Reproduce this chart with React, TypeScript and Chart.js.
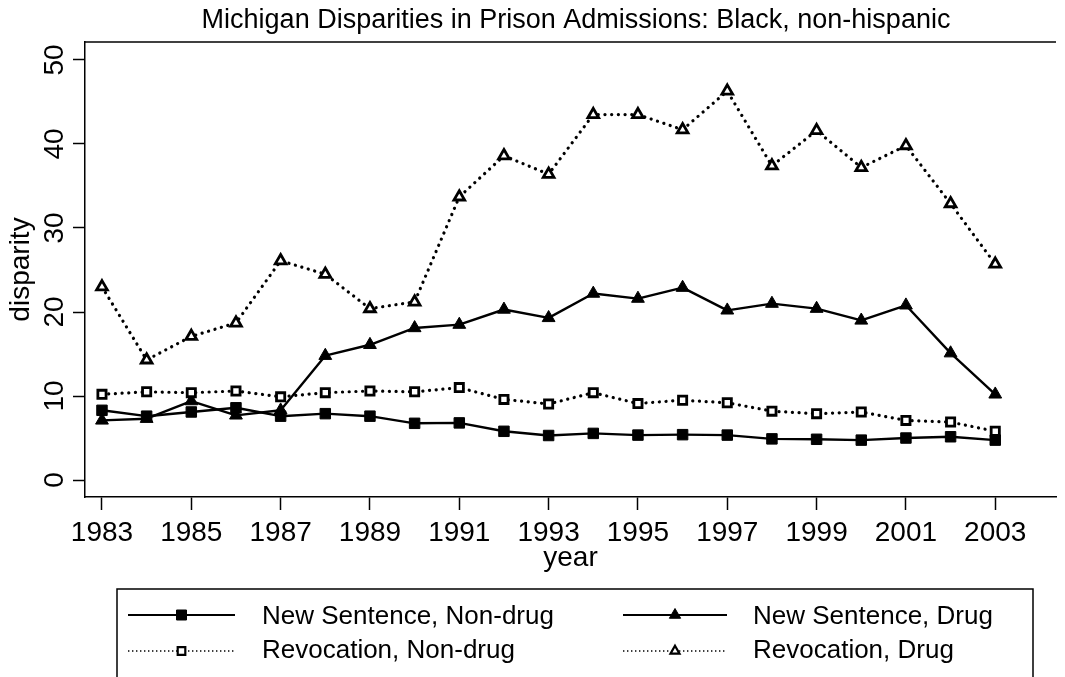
import React, { useEffect, useRef } from 'react';
import { Chart, registerables } from 'chart.js';

Chart.register(...registerables);

const titleText = 'Michigan Disparities in Prison Admissions: Black, non-hispanic';
const xAxisTitle = 'year';
const yAxisTitle = 'disparity';

const years = [1983, 1984, 1985, 1986, 1987, 1988, 1989, 1990, 1991, 1992, 1993, 1994, 1995, 1996, 1997, 1998, 1999, 2000, 2001, 2002, 2003];
const xTickYears = [1983, 1985, 1987, 1989, 1991, 1993, 1995, 1997, 1999, 2001, 2003];
const yTickValues = [0, 10, 20, 30, 40, 50];

const seriesLabels = ['New Sentence, Non-drug', 'New Sentence, Drug', 'Revocation, Non-drug', 'Revocation, Drug'];

const newSentenceNonDrug = [8.3, 7.6, 8.1, 8.6, 7.6, 7.9, 7.6, 6.75, 6.8, 5.8, 5.3, 5.55, 5.35, 5.4, 5.35, 4.9, 4.85, 4.75, 5.0, 5.15, 4.75];
const newSentenceDrug = [7.1, 7.3, 9.4, 7.7, 8.3, 14.8, 16.1, 18.1, 18.5, 20.3, 19.3, 22.2, 21.6, 22.9, 20.2, 21.0, 20.4, 19.0, 20.8, 15.1, 10.2];
const revocationNonDrug = [10.2, 10.5, 10.4, 10.6, 9.9, 10.4, 10.6, 10.5, 11.0, 9.6, 9.05, 10.4, 9.1, 9.5, 9.2, 8.2, 7.9, 8.1, 7.1, 6.9, 5.8];
const revocationDrug = [23.0, 14.3, 17.1, 18.7, 26.1, 24.5, 20.4, 21.2, 33.7, 38.6, 36.4, 43.5, 43.5, 41.7, 46.3, 37.4, 41.6, 37.2, 39.8, 32.9, 25.7];

const FONT = '"Liberation Sans", Arial, Helvetica, sans-serif';

type Sty = { dotted: boolean; shape: 'rect' | 'triangle'; filled: boolean };
const styles: Sty[] = [
  { dotted: false, shape: 'rect', filled: true },
  { dotted: false, shape: 'triangle', filled: true },
  { dotted: true, shape: 'rect', filled: false },
  { dotted: true, shape: 'triangle', filled: false },
];

const seriesValues = [newSentenceNonDrug, newSentenceDrug, revocationNonDrug, revocationDrug];

function drawMarker(ctx: CanvasRenderingContext2D, s: Sty, x: number, y: number) {
  ctx.save();
  ctx.setLineDash([]);
  ctx.beginPath();
  if (s.shape === 'rect') {
    const h = s.filled ? 5 : 3.8;
    ctx.rect(x - h, y - h, 2 * h, 2 * h);
  } else {
    const r = s.filled ? 6.5 : 5.2;
    ctx.moveTo(x, y - r);
    ctx.lineTo(x + r * Math.sin(Math.PI / 3), y + r * 0.5);
    ctx.lineTo(x - r * Math.sin(Math.PI / 3), y + r * 0.5);
    ctx.closePath();
  }
  ctx.fillStyle = s.filled ? '#000' : '#fff';
  ctx.fill();
  ctx.strokeStyle = '#000';
  ctx.lineWidth = s.filled ? 1 : 2.2;
  ctx.stroke();
  ctx.restore();
}

const decorPlugin = {
  id: 'stataDecor',
  afterDraw(chart: any) {
    const ctx: CanvasRenderingContext2D = chart.ctx;
    const area = chart.chartArea;
    const ys = chart.scales.y;
    ctx.save();
    // top border of plot region
    ctx.strokeStyle = '#000';
    ctx.lineWidth = 1.5;
    ctx.beginPath();
    ctx.moveTo(area.left, area.top);
    ctx.lineTo(area.right, area.top);
    ctx.stroke();

    // rotated y tick labels
    ctx.fillStyle = '#000';
    ctx.font = `28px ${FONT}`;
    ctx.textAlign = 'center';
    ctx.textBaseline = 'alphabetic';
    yTickValues.forEach((v) => {
      const py = ys.getPixelForValue(v);
      ctx.save();
      ctx.translate(63, py);
      ctx.rotate(-Math.PI / 2);
      ctx.fillText(String(v), 0, 0);
      ctx.restore();
    });

    // title
    ctx.font = `27px ${FONT}`;
    ctx.textAlign = 'center';
    ctx.fillText(titleText, 576, 28);

    // legend box
    ctx.lineWidth = 1.5;
    ctx.beginPath();
    ctx.moveTo(117, 700);
    ctx.lineTo(117, 589);
    ctx.lineTo(1033, 589);
    ctx.lineTo(1033, 700);
    ctx.stroke();

    const cols = [
      { x0: 128, x1: 235, tx: 262 },
      { x0: 623, x1: 727, tx: 753 },
    ];
    const rowLineY = [615, 651];
    const rowBase = [624, 658];
    chart.data.datasets.forEach((ds: any, i: number) => {
      const s = styles[i];
      const c = cols[i % 2];
      const r = i < 2 ? 0 : 1;
      const ly = rowLineY[r];
      ctx.save();
      ctx.strokeStyle = '#000';
      if (s.dotted) {
        ctx.lineWidth = 1.4;
        ctx.setLineDash([1.4, 2.6]);
      } else {
        ctx.lineWidth = 2;
        ctx.setLineDash([]);
      }
      ctx.beginPath();
      ctx.moveTo(c.x0, ly);
      ctx.lineTo(c.x1, ly);
      ctx.stroke();
      ctx.restore();
      drawMarker(ctx, s, (c.x0 + c.x1) / 2, ly);
      ctx.fillStyle = '#000';
      ctx.font = `26px ${FONT}`;
      ctx.textAlign = 'left';
      ctx.textBaseline = 'alphabetic';
      ctx.fillText(ds.label, c.tx, rowBase[r]);
    });
    ctx.restore();
  },
};

export default function App() {
  const canvasRef = useRef<HTMLCanvasElement | null>(null);

  useEffect(() => {
    if (!canvasRef.current) return;
    const datasets = seriesValues.map((vals, i) => {
      const s = styles[i];
      return {
        label: seriesLabels[i],
        data: years.map((yr, k) => ({ x: yr, y: vals[k] })),
        borderColor: '#000',
        backgroundColor: '#000',
        borderWidth: s.dotted ? 3.2 : 2.4,
        borderDash: s.dotted ? [0.1, 6.6] : [],
        borderCapStyle: s.dotted ? 'round' : 'butt',
        borderJoinStyle: 'round',
        tension: 0,
        pointStyle: s.shape,
        pointRadius: s.shape === 'rect' ? (s.filled ? 7.4 : 5.8) : (s.filled ? 7.4 : 6.2),
        pointBackgroundColor: s.filled ? '#000' : '#fff',
        pointBorderColor: '#000',
        pointBorderWidth: s.filled ? 1 : 2.8,
        order: 3 - i,
        clip: false,
      };
    });

    const chart = new Chart(canvasRef.current, {
      type: 'line',
      data: { datasets } as any,
      options: {
        animation: false,
        responsive: false,
        devicePixelRatio: 1,
        events: [],
        layout: { padding: { top: 42, right: 0, bottom: 102, left: 0 } },
        plugins: {
          legend: { display: false },
          tooltip: { enabled: false },
          title: { display: false },
        },
        scales: {
          x: {
            type: 'linear',
            min: 1982.62,
            max: 2004.36,
            afterBuildTicks: (scale: any) => {
              scale.ticks = xTickYears.map((v) => ({ value: v }));
            },
            afterFit: (scale: any) => {
              scale.height = 78;
            },
            ticks: {
              color: '#000',
              font: { family: FONT, size: 28 },
              padding: 6,
              maxRotation: 0,
              minRotation: 0,
              autoSkip: false,
              callback: (v: any) => String(v),
            },
            grid: {
              display: true,
              drawOnChartArea: false,
              drawTicks: true,
              tickLength: 13,
              tickColor: '#000',
              tickWidth: 1.5,
              color: '#000',
            },
            border: { display: true, color: '#000', width: 1.5 },
            title: {
              display: true,
              text: xAxisTitle,
              color: '#000',
              font: { family: FONT, size: 28 },
              padding: 0,
            },
          },
          y: {
            type: 'linear',
            min: -2.02,
            max: 52.14,
            afterBuildTicks: (scale: any) => {
              scale.ticks = yTickValues.map((v) => ({ value: v }));
            },
            afterFit: (scale: any) => {
              scale.width = 85;
            },
            ticks: { display: false },
            grid: {
              display: true,
              drawOnChartArea: false,
              drawTicks: true,
              tickLength: 12,
              tickColor: '#000',
              tickWidth: 1.5,
              color: '#000',
            },
            border: { display: true, color: '#000', width: 1.5 },
            title: {
              display: true,
              text: yAxisTitle,
              color: '#000',
              font: { family: FONT, size: 28 },
              padding: { top: 4, bottom: 0 },
            },
          },
        },
      } as any,
      plugins: [decorPlugin],
    });
    return () => chart.destroy();
  }, []);

  return (
    <div style={{ position: 'absolute', left: 0, top: 0, width: 1065, height: 677, background: '#fff' }}>
      <canvas ref={canvasRef} width={1065} height={677} style={{ display: 'block' }} />
    </div>
  );
}
